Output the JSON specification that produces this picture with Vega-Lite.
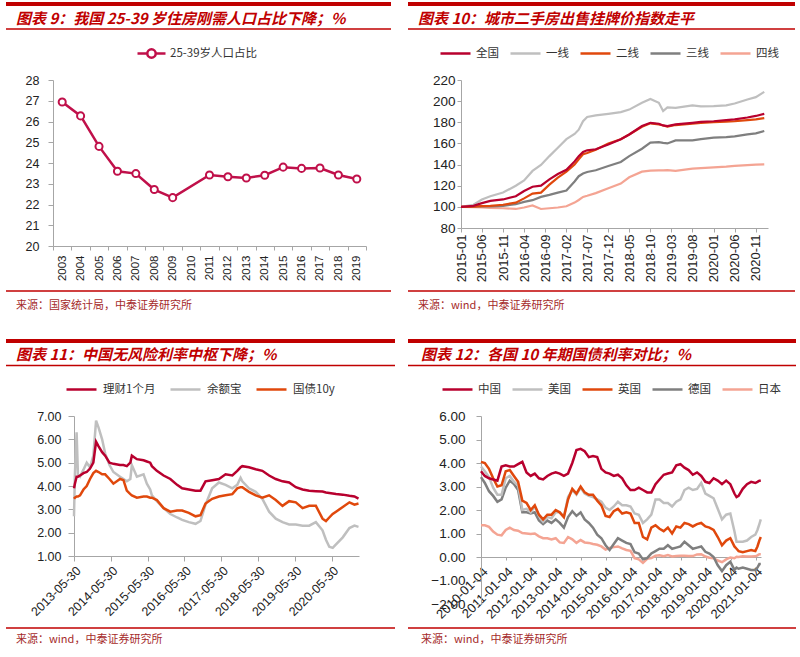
{
"$schema":"https://vega.github.io/schema/vega-lite/v6.json",
"autosize":{"type":"pad"},
"padding":{"left":0,"top":2,"right":0,"bottom":0},
"background":"white",
"config":{"view":{"stroke":null},"axis":{"grid":false,"domainColor":"#A6A6A6","tickColor":"#A6A6A6","labelColor":"#222222","labelFont":"Liberation Sans","labelOverlap":false}},
"columns":2,"align":"each","bounds":"flush","spacing":{"row":0,"column":13},
"resolve":{"scale":{"color":"independent"},"legend":{"color":"independent"}},
"concat":[
 {"width":385,"height":78,"data":{"values":[{"t":"图表 9：我国 25-39 岁住房刚需人口占比下降；%"}]},
  "layer":[
   {"mark":{"type":"rule","color":"#C00000","strokeWidth":4},"encoding":{"y":{"datum":2,"type":"quantitative","scale":{"domain":[0,78],"reverse":true,"nice":false,"zero":false},"axis":null}}},
   {"mark":{"type":"rule","color":"#C00000","strokeWidth":1.5},"encoding":{"y":{"datum":27,"type":"quantitative","scale":{"domain":[0,78],"reverse":true,"nice":false,"zero":false},"axis":null}}},
   {"mark":{"type":"text","align":"left","baseline":"middle","font":"Noto Sans CJK SC","fontSize":15,"fontStyle":"italic","fontWeight":"bold","color":"#C00000"},"encoding":{"text":{"field":"t"},"x":{"datum":10,"type":"quantitative","scale":{"domain":[0,385],"nice":false,"zero":false},"axis":null},"y":{"datum":16.5,"type":"quantitative","scale":{"domain":[0,78],"reverse":true,"nice":false,"zero":false},"axis":null}}}
  ]},
 {"width":387,"height":78,"data":{"values":[{"t":"图表 10：城市二手房出售挂牌价指数走平"}]},
  "layer":[
   {"mark":{"type":"rule","color":"#C00000","strokeWidth":4},"encoding":{"y":{"datum":2,"type":"quantitative","scale":{"domain":[0,78],"reverse":true,"nice":false,"zero":false},"axis":null}}},
   {"mark":{"type":"rule","color":"#C00000","strokeWidth":1.5},"encoding":{"y":{"datum":27,"type":"quantitative","scale":{"domain":[0,78],"reverse":true,"nice":false,"zero":false},"axis":null}}},
   {"mark":{"type":"text","align":"left","baseline":"middle","font":"Noto Sans CJK SC","fontSize":15,"fontStyle":"italic","fontWeight":"bold","color":"#C00000"},"encoding":{"text":{"field":"t"},"x":{"datum":10,"type":"quantitative","scale":{"domain":[0,387],"nice":false,"zero":false},"axis":null},"y":{"datum":16.5,"type":"quantitative","scale":{"domain":[0,78],"reverse":true,"nice":false,"zero":false},"axis":null}}}
  ]},
 {"width":360,"height":166,
  "data":{"values":[{"year":"2003","v":26.94},{"year":"2004","v":26.27},{"year":"2005","v":24.8},{"year":"2006","v":23.6},{"year":"2007","v":23.49},{"year":"2008","v":22.72},{"year":"2009","v":22.33},{"year":"2011","v":23.42},{"year":"2012","v":23.34},{"year":"2013","v":23.28},{"year":"2014","v":23.41},{"year":"2015","v":23.8},{"year":"2016","v":23.74},{"year":"2017","v":23.76},{"year":"2018","v":23.42},{"year":"2019","v":23.23}]},
  "encoding":{
   "x":{"field":"year","type":"ordinal","bandPosition":0.5,"scale":{"type":"band","domain":["2003","2004","2005","2006","2007","2008","2009","2010","2011","2012","2013","2014","2015","2016","2017","2018","2019"],"range":[47,360],"paddingInner":0,"paddingOuter":0},"axis":{"title":null,"labelAngle":-90,"labelFontSize":11.5,"tickSize":4,"labelPadding":5,"tickBand":"extent"}},
   "y":{"field":"v","type":"quantitative","scale":{"domain":[20,28],"nice":false,"zero":false},"axis":{"title":null,"offset":-47,"values":[20,21,22,23,24,25,26,27,28],"labelFontSize":12.5,"tickSize":5,"labelPadding":9}}
  },
  "layer":[
   {"mark":{"type":"line","strokeWidth":2.5},"encoding":{"color":{"datum":"25-39岁人口占比","scale":{"range":["#C0104A"]},"legend":{"orient":"none","legendX":130,"legendY":-42,"direction":"horizontal","title":null,"symbolType":"M-1,0H-0.3M0.3,0H1M-0.3,0A0.3,0.3,0,1,0,0.3,0A0.3,0.3,0,1,0,-0.3,0","symbolSize":784,"symbolStrokeWidth":2.5,"symbolStrokeColor":"#C0104A","symbolFillColor":"white","labelFont":"Noto Sans CJK SC","labelFontSize":11.5,"labelColor":"#333333","labelOffset":3}}}},
   {"mark":{"type":"point","shape":"circle","size":50,"filled":true,"fill":"white","stroke":"#C0104A","strokeWidth":2,"opacity":1}}
  ]},
 {"width":360,"height":148,
  "data":{"values":[
   {"d":"2015-01-01","全国":100,"一线":100,"二线":100,"三线":100,"四线":100},
   {"d":"2015-04-01","全国":101,"一线":102,"二线":100.3,"三线":100.3,"四线":99.8},
   {"d":"2015-06-01","全国":103.5,"一线":107,"二线":100.6,"三线":100.6,"四线":99.4},
   {"d":"2015-08-01","全国":105.7,"一线":110,"二线":101,"三线":100.5,"四线":99},
   {"d":"2015-11-01","全国":107,"一线":113.5,"二线":102,"三线":101,"四线":98.7},
   {"d":"2016-02-01","全国":110,"一线":120,"二线":104,"三线":102.5,"四线":98},
   {"d":"2016-04-01","全国":115,"一线":125,"二线":108,"三线":104.7,"四线":99.4},
   {"d":"2016-06-01","全国":119,"一线":134,"二线":112.5,"三线":106.3,"四线":101.3},
   {"d":"2016-08-01","全国":120,"一线":139.6,"二线":113.5,"三线":109.4,"四线":98},
   {"d":"2016-10-01","全国":126,"一线":148,"二线":121,"三线":111.3,"四线":98.7},
   {"d":"2016-12-01","全国":131,"一线":156,"二线":127.7,"三线":113.5,"四线":99.4},
   {"d":"2017-02-01","全国":135,"一线":164,"二线":133.3,"三线":115.5,"四线":100.6},
   {"d":"2017-04-01","全国":143,"一线":169,"二线":140,"三线":124,"四线":104},
   {"d":"2017-05-01","全国":148,"一线":173,"二线":145,"三线":129,"四线":106.5},
   {"d":"2017-06-01","全国":152,"一线":181,"二线":149.7,"三线":131.5,"四线":109.4},
   {"d":"2017-07-01","全国":153.5,"一线":185,"二线":151,"三线":133,"四线":110.5},
   {"d":"2017-09-01","全国":154.5,"一线":186.5,"二线":154,"三线":134.6,"四线":113},
   {"d":"2017-12-01","全国":159,"一线":188,"二线":160,"三线":138.7,"四线":117.6},
   {"d":"2018-03-01","全国":164,"一线":189.6,"二线":164,"三线":142.5,"四线":122},
   {"d":"2018-05-01","全国":168.5,"一线":192,"二线":168.5,"三线":148,"四线":128},
   {"d":"2018-08-01","全国":176.5,"一线":198.4,"二线":175.8,"三线":155,"四线":133.3},
   {"d":"2018-10-01","全国":179.5,"一线":202,"二线":179,"三线":160.7,"四线":134.3},
   {"d":"2018-12-01","全国":178.6,"一线":198.4,"二线":178,"三线":161.3,"四线":134.5},
   {"d":"2019-01-01","全国":177,"一线":190.6,"二线":177,"三线":160.5,"四线":134.6},
   {"d":"2019-02-01","全国":176.4,"一线":194,"二线":176,"三线":160,"四线":134.8},
   {"d":"2019-04-01","全国":178,"一线":193.7,"二线":177.4,"三线":162.9,"四线":134},
   {"d":"2019-08-01","全国":179.5,"一线":196,"二线":178.6,"三线":162.9,"四线":136.2},
   {"d":"2019-10-01","全国":180.3,"一线":195,"二线":179.3,"三线":164,"四线":136.6},
   {"d":"2020-01-01","全国":181,"一线":195.3,"二线":180.2,"三线":165.4,"四线":137.4},
   {"d":"2020-04-01","全国":182,"一线":196,"二线":180.6,"三线":166,"四线":138},
   {"d":"2020-06-01","全国":182.7,"一线":197.8,"二线":181,"三线":166.7,"四线":138.7},
   {"d":"2020-09-01","全国":184.5,"一线":201.6,"二线":182,"三线":168.5,"四线":139.5},
   {"d":"2020-11-01","全国":186,"一线":203.8,"二线":182.7,"三线":169.5,"四线":140},
   {"d":"2021-01-01","全国":188,"一线":208.8,"二线":184,"三线":171.7,"四线":140.2}
  ]},
  "transform":[{"fold":["四线","三线","一线","二线","全国"],"as":["s","v"]}],
  "mark":{"type":"line","strokeWidth":2.2},
  "encoding":{
   "x":{"field":"d","type":"temporal","scale":{"type":"utc","range":[53,360],"domain":[{"year":2015,"month":1,"date":1,"utc":true},{"year":2021,"month":1,"date":28,"utc":true}]},"axis":{"title":null,"values":[{"year":2015,"month":1,"date":1,"utc":true},{"year":2015,"month":6,"date":1,"utc":true},{"year":2015,"month":11,"date":1,"utc":true},{"year":2016,"month":4,"date":1,"utc":true},{"year":2016,"month":9,"date":1,"utc":true},{"year":2017,"month":2,"date":1,"utc":true},{"year":2017,"month":7,"date":1,"utc":true},{"year":2017,"month":12,"date":1,"utc":true},{"year":2018,"month":5,"date":1,"utc":true},{"year":2018,"month":10,"date":1,"utc":true},{"year":2019,"month":3,"date":1,"utc":true},{"year":2019,"month":8,"date":1,"utc":true},{"year":2020,"month":1,"date":1,"utc":true},{"year":2020,"month":6,"date":1,"utc":true},{"year":2020,"month":11,"date":1,"utc":true}],"labelExpr":"utcFormat(datum.value, '%Y-%m')","labelAngle":-90,"labelFontSize":13,"tickSize":4,"labelPadding":2}},
   "y":{"field":"v","type":"quantitative","scale":{"domain":[80,220],"nice":false,"zero":false},"axis":{"title":null,"offset":-53,"values":[80,100,120,140,160,180,200,220],"labelFontSize":13.5,"tickSize":4,"labelPadding":2}},
   "color":{"field":"s","type":"nominal","scale":{"domain":["全国","一线","二线","三线","四线"],"range":["#B8002E","#BFBFBF","#E0480C","#7F7F7F","#F4A493"]},"legend":{"orient":"none","legendX":31,"legendY":-43,"direction":"horizontal","title":null,"symbolType":"stroke","symbolSize":900,"symbolStrokeWidth":2.5,"labelFont":"Noto Sans CJK SC","labelFontSize":11.5,"labelColor":"#333333","labelOffset":4,"columnPadding":6}}
  }},
 {"width":385,"height":92,"data":{"values":[{"t":"来源：国家统计局，中泰证券研究所"}]},
  "layer":[
   {"mark":{"type":"rule","color":"#C00000","strokeWidth":1.5},"encoding":{"y":{"datum":45,"type":"quantitative","scale":{"domain":[0,92],"reverse":true,"nice":false,"zero":false},"axis":null}}},
   {"mark":{"type":"text","align":"left","baseline":"middle","font":"Noto Sans CJK SC","fontSize":11,"color":"#A52A2A"},"encoding":{"text":{"field":"t"},"x":{"datum":10,"type":"quantitative","scale":{"domain":[0,385],"nice":false,"zero":false},"axis":null},"y":{"datum":60,"type":"quantitative","scale":{"domain":[0,92],"reverse":true,"nice":false,"zero":false},"axis":null}}}
  ]},
 {"width":387,"height":92,"data":{"values":[{"t":"来源：wind，中泰证券研究所"}]},
  "layer":[
   {"mark":{"type":"rule","color":"#C00000","strokeWidth":1.5},"encoding":{"y":{"datum":45,"type":"quantitative","scale":{"domain":[0,92],"reverse":true,"nice":false,"zero":false},"axis":null}}},
   {"mark":{"type":"text","align":"left","baseline":"middle","font":"Noto Sans CJK SC","fontSize":11,"color":"#A52A2A"},"encoding":{"text":{"field":"t"},"x":{"datum":10,"type":"quantitative","scale":{"domain":[0,387],"nice":false,"zero":false},"axis":null},"y":{"datum":60,"type":"quantitative","scale":{"domain":[0,92],"reverse":true,"nice":false,"zero":false},"axis":null}}}
  ]},
 {"width":389,"height":78,"data":{"values":[{"t":"图表 11：中国无风险利率中枢下降；%"}]},
  "layer":[
   {"mark":{"type":"rule","color":"#C00000","strokeWidth":4},"encoding":{"y":{"datum":3,"type":"quantitative","scale":{"domain":[0,78],"reverse":true,"nice":false,"zero":false},"axis":null}}},
   {"mark":{"type":"rule","color":"#C00000","strokeWidth":1.5},"encoding":{"y":{"datum":27.5,"type":"quantitative","scale":{"domain":[0,78],"reverse":true,"nice":false,"zero":false},"axis":null}}},
   {"mark":{"type":"text","align":"left","baseline":"middle","font":"Noto Sans CJK SC","fontSize":15,"fontStyle":"italic","fontWeight":"bold","color":"#C00000"},"encoding":{"text":{"field":"t"},"x":{"datum":10,"type":"quantitative","scale":{"domain":[0,389],"nice":false,"zero":false},"axis":null},"y":{"datum":16.5,"type":"quantitative","scale":{"domain":[0,78],"reverse":true,"nice":false,"zero":false},"axis":null}}}
  ]},
 {"width":388,"height":78,"data":{"values":[{"t":"图表 12：各国 10 年期国债利率对比；%"}]},
  "layer":[
   {"mark":{"type":"rule","color":"#C00000","strokeWidth":4},"encoding":{"y":{"datum":3,"type":"quantitative","scale":{"domain":[0,78],"reverse":true,"nice":false,"zero":false},"axis":null}}},
   {"mark":{"type":"rule","color":"#C00000","strokeWidth":1.5},"encoding":{"y":{"datum":27.5,"type":"quantitative","scale":{"domain":[0,78],"reverse":true,"nice":false,"zero":false},"axis":null}}},
   {"mark":{"type":"text","align":"left","baseline":"middle","font":"Noto Sans CJK SC","fontSize":15,"fontStyle":"italic","fontWeight":"bold","color":"#C00000"},"encoding":{"text":{"field":"t"},"x":{"datum":13,"type":"quantitative","scale":{"domain":[0,388],"nice":false,"zero":false},"axis":null},"y":{"datum":16.5,"type":"quantitative","scale":{"domain":[0,78],"reverse":true,"nice":false,"zero":false},"axis":null}}}
  ]},
 {"width":353,"height":140,
  "data":{"values":[
   {"d":"2013-05-30","理财1个月":3.9,"余额宝":2.7,"国债10y":3.45},
   {"d":"2013-06-08","理财1个月":4.1,"余额宝":4.5,"国债10y":3.5},
   {"d":"2013-06-25","理财1个月":4.4,"余额宝":6.3,"国债10y":3.55},
   {"d":"2013-07-08","理财1个月":4.4,"余额宝":4.5,"国债10y":3.55},
   {"d":"2013-07-29","理财1个月":4.45,"余额宝":4.4,"国债10y":3.6},
   {"d":"2013-09-01","理财1个月":4.55,"余额宝":4.7,"国债10y":3.85},
   {"d":"2013-10-03","理财1个月":4.6,"余额宝":5.0,"国债10y":4.0},
   {"d":"2013-11-05","理财1个月":4.75,"余额宝":4.8,"国债10y":4.3},
   {"d":"2013-12-08","理财1个月":5.0,"余额宝":5.3,"国债10y":4.55},
   {"d":"2014-01-04","理财1个月":5.9,"余额宝":6.8,"国债10y":4.65},
   {"d":"2014-01-29","理财1个月":5.7,"余额宝":6.5,"国债10y":4.6},
   {"d":"2014-03-05","理财1个月":5.45,"余额宝":6.0,"国债10y":4.5},
   {"d":"2014-04-04","理财1个月":5.3,"余额宝":5.4,"国债10y":4.5},
   {"d":"2014-05-17","理财1个月":5.0,"余额宝":4.9,"国债10y":4.3},
   {"d":"2014-06-25","理财1个月":4.95,"余额宝":4.6,"国债10y":4.1},
   {"d":"2014-08-30","理财1个月":4.9,"余额宝":4.4,"国债10y":4.3},
   {"d":"2014-10-03","理财1个月":4.9,"余额宝":4.3,"国债10y":4.25},
   {"d":"2014-11-05","理财1个月":4.85,"余额宝":4.2,"国债10y":3.8},
   {"d":"2014-12-10","理财1个月":5.0,"余额宝":4.3,"国债10y":3.65},
   {"d":"2014-12-25","理财1个月":5.3,"余额宝":4.9,"国债10y":3.6},
   {"d":"2015-02-13","理财1个月":5.15,"余额宝":4.4,"国债10y":3.5},
   {"d":"2015-04-20","理财1个月":5.1,"余额宝":4.5,"国债10y":3.55},
   {"d":"2015-05-23","理财1个月":5.05,"余额宝":4.1,"国债10y":3.55},
   {"d":"2015-06-25","理财1个月":5.0,"余额宝":3.85,"国债10y":3.5},
   {"d":"2015-07-12","理财1个月":4.85,"余额宝":3.6,"国债10y":3.5},
   {"d":"2015-08-30","理财1个月":4.65,"余额宝":3.35,"国债10y":3.4},
   {"d":"2015-11-05","理财1个月":4.45,"余额宝":3.05,"国债10y":3.05},
   {"d":"2016-01-11","理财1个月":4.3,"余额宝":2.8,"国债10y":2.9},
   {"d":"2016-03-18","理财1个月":4.05,"余额宝":2.65,"国债10y":2.95},
   {"d":"2016-05-07","理财1个月":3.9,"余额宝":2.55,"国债10y":2.95},
   {"d":"2016-07-12","理财1个月":3.85,"余额宝":2.45,"国债10y":2.85},
   {"d":"2016-09-17","理财1个月":3.8,"余额宝":2.38,"国债10y":2.7},
   {"d":"2016-11-05","理财1个月":3.8,"余额宝":2.5,"国债10y":2.75},
   {"d":"2016-12-25","理财1个月":4.2,"余额宝":3.2,"国债10y":3.25},
   {"d":"2017-03-01","理财1个月":4.25,"余额宝":3.9,"国债10y":3.45},
   {"d":"2017-05-07","理财1个月":4.3,"余额宝":4.15,"国债10y":3.55},
   {"d":"2017-07-12","理财1个月":4.5,"余额宝":4.05,"国债10y":3.6},
   {"d":"2017-09-17","理财1个月":4.45,"余额宝":3.9,"国债10y":3.65},
   {"d":"2017-11-05","理财1个月":4.65,"余额宝":4.05,"国债10y":3.9},
   {"d":"2017-12-08","理财1个月":4.8,"余额宝":4.35,"国债10y":3.95},
   {"d":"2017-12-25","理财1个月":4.85,"余额宝":4.2,"国债10y":3.95},
   {"d":"2018-03-01","理财1个月":4.8,"余额宝":3.9,"国债10y":3.75},
   {"d":"2018-05-07","理财1个月":4.72,"余额宝":3.75,"国债10y":3.6},
   {"d":"2018-07-12","理财1个月":4.65,"余额宝":3.45,"国债10y":3.5},
   {"d":"2018-09-17","理财1个月":4.45,"余额宝":2.9,"国债10y":3.6},
   {"d":"2018-11-22","理财1个月":4.3,"余额宝":2.6,"国债10y":3.4},
   {"d":"2019-01-28","理财1个月":4.2,"余额宝":2.45,"国债10y":3.15},
   {"d":"2019-04-04","理财1个月":4.15,"余额宝":2.35,"国债10y":3.35},
   {"d":"2019-06-09","理财1个月":3.95,"余额宝":2.35,"国债10y":3.3},
   {"d":"2019-08-15","理财1个月":3.85,"余额宝":2.3,"国债10y":3.05},
   {"d":"2019-10-20","理财1个月":3.8,"余额宝":2.3,"国债10y":3.15},
   {"d":"2019-12-25","理财1个月":3.78,"余额宝":2.45,"国债10y":3.15},
   {"d":"2020-02-29","理财1个月":3.76,"余额宝":2.1,"国债10y":2.6},
   {"d":"2020-04-03","理财1个月":3.72,"余额宝":1.7,"国债10y":2.5},
   {"d":"2020-05-06","理财1个月":3.7,"余额宝":1.4,"国债10y":2.65},
   {"d":"2020-06-09","理财1个月":3.68,"余额宝":1.35,"国债10y":2.8},
   {"d":"2020-07-12","理财1个月":3.66,"余额宝":1.5,"国债10y":2.9},
   {"d":"2020-09-17","理财1个月":3.63,"余额宝":1.8,"国债10y":3.1},
   {"d":"2020-11-22","理财1个月":3.58,"余额宝":2.2,"国债10y":3.3},
   {"d":"2021-01-11","理财1个月":3.55,"余额宝":2.3,"国债10y":3.2},
   {"d":"2021-02-20","理财1个月":3.46,"余额宝":2.25,"国债10y":3.25}
  ]},
  "transform":[{"fold":["余额宝","国债10y","理财1个月"],"as":["s","v"]}],
  "mark":{"type":"line","strokeWidth":2.5},
  "encoding":{
   "x":{"field":"d","type":"temporal","scale":{"type":"utc","range":[68,353],"domain":[{"year":2013,"month":5,"date":30,"utc":true},{"year":2021,"month":2,"date":25,"utc":true}]},"axis":{"title":null,"values":[{"year":2013,"month":5,"date":30,"utc":true},{"year":2014,"month":5,"date":30,"utc":true},{"year":2015,"month":5,"date":30,"utc":true},{"year":2016,"month":5,"date":30,"utc":true},{"year":2017,"month":5,"date":30,"utc":true},{"year":2018,"month":5,"date":30,"utc":true},{"year":2019,"month":5,"date":30,"utc":true},{"year":2020,"month":5,"date":30,"utc":true}],"labelExpr":"utcFormat(datum.value, '%Y-%m-%d')","labelAngle":-45,"labelFontSize":12.5,"tickSize":5,"labelPadding":3}},
   "y":{"field":"v","type":"quantitative","scale":{"domain":[1,7],"nice":false,"zero":false},"axis":{"title":null,"offset":-68,"values":[1,2,3,4,5,6,7],"format":".2f","labelFontSize":12.5,"tickSize":6,"labelPadding":7}},
   "color":{"field":"s","type":"nominal","scale":{"domain":["理财1个月","余额宝","国债10y"],"range":["#B8002E","#BFBFBF","#E0480C"]},"legend":{"orient":"none","legendX":59,"legendY":-43,"direction":"horizontal","title":null,"symbolType":"stroke","symbolSize":900,"symbolStrokeWidth":2.5,"labelFont":"Noto Sans CJK SC","labelFontSize":11.5,"labelColor":"#333333","labelOffset":5,"columnPadding":9}}
  }},
 {"width":353,"height":188,
  "data":{"values":[
   {"d":"2010-01-04","中国":3.65,"美国":3.85,"英国":4.05,"德国":3.4,"日本":1.35},
   {"d":"2010-03-01","中国":3.45,"美国":3.65,"英国":4.0,"德国":3.15,"日本":1.35},
   {"d":"2010-05-01","中国":3.35,"美国":3.4,"英国":3.75,"德国":2.8,"日本":1.28},
   {"d":"2010-07-01","中国":3.3,"美国":2.95,"英国":3.35,"德国":2.6,"日本":1.08},
   {"d":"2010-09-01","中国":3.25,"美国":2.65,"英国":3.0,"德国":2.35,"日本":0.95},
   {"d":"2010-11-01","中国":3.85,"美国":2.65,"英国":3.05,"德国":2.45,"日本":0.92},
   {"d":"2011-01-01","中国":3.9,"美国":3.35,"英国":3.65,"德国":2.95,"日本":1.15},
   {"d":"2011-03-01","中国":3.85,"美国":3.45,"英国":3.7,"德国":3.25,"日本":1.25},
   {"d":"2011-05-01","中国":3.85,"美国":3.2,"英国":3.45,"德国":3.1,"日本":1.15},
   {"d":"2011-07-01","中国":3.95,"美国":3.05,"英国":3.2,"德国":2.85,"日本":1.12},
   {"d":"2011-09-01","中国":4.05,"美国":2.0,"英国":2.4,"德国":1.9,"日本":1.02},
   {"d":"2011-11-01","中国":3.6,"美国":2.05,"英国":2.3,"德国":1.9,"日本":1.0},
   {"d":"2012-01-01","中国":3.45,"美国":1.9,"英国":2.0,"德国":1.85,"日本":0.98},
   {"d":"2012-03-01","中国":3.55,"美国":2.15,"英国":2.2,"德国":1.9,"日本":1.0},
   {"d":"2012-05-01","中国":3.35,"美国":1.75,"英国":1.8,"德国":1.55,"日本":0.88},
   {"d":"2012-07-01","中国":3.3,"美国":1.5,"英国":1.6,"德国":1.4,"日本":0.8},
   {"d":"2012-09-01","中国":3.45,"美国":1.7,"英国":1.8,"德国":1.55,"日本":0.8},
   {"d":"2012-11-01","中国":3.55,"美国":1.65,"英国":1.8,"德国":1.45,"日本":0.75},
   {"d":"2013-01-01","中国":3.6,"美国":1.9,"英国":2.0,"德国":1.6,"日本":0.8},
   {"d":"2013-03-01","中国":3.55,"美国":1.9,"英国":1.9,"德国":1.45,"日本":0.62},
   {"d":"2013-05-01","中国":3.45,"美国":1.7,"英国":1.7,"德国":1.25,"日本":0.6},
   {"d":"2013-07-01","中国":3.55,"美国":2.55,"英国":2.45,"德国":1.7,"日本":0.85},
   {"d":"2013-09-01","中国":4.0,"美国":2.85,"英国":2.9,"德国":1.95,"日本":0.75},
   {"d":"2013-11-01","中国":4.55,"美国":2.65,"英国":2.7,"德国":1.75,"日本":0.6},
   {"d":"2014-01-01","中国":4.6,"美国":2.95,"英国":3.0,"德国":1.9,"日本":0.72},
   {"d":"2014-03-01","中国":4.5,"美国":2.7,"英国":2.75,"德国":1.6,"日本":0.62},
   {"d":"2014-05-01","中国":4.25,"美国":2.6,"英国":2.65,"德国":1.45,"日本":0.6},
   {"d":"2014-07-01","中国":4.3,"美国":2.55,"英国":2.65,"德国":1.25,"日本":0.55},
   {"d":"2014-09-01","中国":4.25,"美国":2.45,"英国":2.4,"德国":0.95,"日本":0.52},
   {"d":"2014-11-01","中国":3.75,"美国":2.35,"英国":2.2,"德国":0.8,"日本":0.45},
   {"d":"2015-01-01","中国":3.6,"美国":2.1,"英国":1.75,"德国":0.5,"日本":0.32},
   {"d":"2015-03-01","中国":3.55,"美国":2.0,"英国":1.7,"德国":0.3,"日本":0.38},
   {"d":"2015-05-01","中国":3.45,"美国":2.15,"英国":1.95,"德国":0.55,"日本":0.42},
   {"d":"2015-07-01","中国":3.5,"美国":2.35,"英国":2.05,"德国":0.8,"日本":0.45},
   {"d":"2015-09-01","中国":3.35,"美国":2.2,"英国":1.85,"德国":0.7,"日本":0.37},
   {"d":"2015-11-01","中国":3.05,"美国":2.2,"英国":1.9,"德国":0.6,"日本":0.3},
   {"d":"2016-01-01","中国":2.85,"美国":2.15,"英国":1.85,"德国":0.55,"日本":0.26},
   {"d":"2016-03-01","中国":2.85,"美国":1.85,"英国":1.45,"德国":0.2,"日本":-0.05},
   {"d":"2016-05-01","中国":2.95,"美国":1.8,"英国":1.45,"德国":0.15,"日本":-0.1},
   {"d":"2016-07-01","中国":2.85,"美国":1.45,"英国":0.85,"德国":-0.1,"日本":-0.25},
   {"d":"2016-09-01","中国":2.75,"美国":1.6,"英国":0.75,"德国":-0.05,"日本":-0.08},
   {"d":"2016-11-01","中国":2.75,"美国":1.8,"英国":1.25,"德国":0.15,"日本":-0.05},
   {"d":"2017-01-01","中国":3.1,"美国":2.45,"英国":1.35,"德国":0.25,"日本":0.05},
   {"d":"2017-03-01","中国":3.3,"美国":2.45,"英国":1.2,"德国":0.35,"日本":0.07},
   {"d":"2017-05-01","中国":3.5,"美国":2.3,"英国":1.1,"德国":0.35,"日本":0.03},
   {"d":"2017-07-01","中国":3.55,"美国":2.3,"英国":1.25,"德国":0.5,"日本":0.08},
   {"d":"2017-09-01","中国":3.6,"美国":2.15,"英国":1.0,"德国":0.35,"日本":0.02},
   {"d":"2017-11-01","中国":3.9,"美国":2.35,"英国":1.3,"德国":0.4,"日本":0.04},
   {"d":"2018-01-01","中国":3.95,"美国":2.45,"英国":1.25,"德国":0.45,"日本":0.05},
   {"d":"2018-03-01","中国":3.8,"美国":2.85,"英国":1.45,"德国":0.65,"日本":0.05},
   {"d":"2018-05-01","中国":3.7,"美国":2.95,"英国":1.4,"德国":0.5,"日本":0.04},
   {"d":"2018-07-01","中国":3.5,"美国":2.85,"英国":1.3,"德国":0.35,"日本":0.04},
   {"d":"2018-09-01","中国":3.6,"美国":2.9,"英国":1.4,"德国":0.4,"日本":0.11},
   {"d":"2018-11-01","中国":3.45,"美国":3.15,"英国":1.45,"德国":0.45,"日本":0.12},
   {"d":"2019-01-01","中国":3.2,"美国":2.7,"英国":1.3,"德国":0.22,"日本":0.02},
   {"d":"2019-03-01","中国":3.15,"美国":2.6,"英国":1.25,"德国":0.15,"日本":-0.03},
   {"d":"2019-05-01","中国":3.35,"美国":2.5,"英国":1.15,"德国":0.0,"日本":-0.05},
   {"d":"2019-07-01","中国":3.25,"美国":2.05,"英国":0.85,"德国":-0.35,"日本":-0.15},
   {"d":"2019-09-01","中国":3.1,"美国":1.6,"英国":0.5,"德国":-0.6,"日本":-0.22},
   {"d":"2019-11-01","中国":3.25,"美国":1.8,"英国":0.7,"德国":-0.35,"日本":-0.1},
   {"d":"2020-01-01","中国":3.1,"美国":1.85,"英国":0.8,"德国":-0.2,"日本":-0.02},
   {"d":"2020-03-01","中国":2.7,"美国":1.1,"英国":0.45,"德国":-0.55,"日本":-0.05},
   {"d":"2020-04-01","中国":2.55,"美国":0.65,"英国":0.35,"德国":-0.45,"日本":0.01},
   {"d":"2020-05-01","中国":2.6,"美国":0.65,"英国":0.25,"德国":-0.5,"日本":0.0},
   {"d":"2020-07-01","中国":2.9,"美国":0.65,"英国":0.2,"德国":-0.45,"日本":0.03},
   {"d":"2020-09-01","中国":3.1,"美国":0.7,"英国":0.25,"德国":-0.5,"日本":0.02},
   {"d":"2020-11-01","中国":3.2,"美国":0.85,"英国":0.3,"德国":-0.55,"日本":0.02},
   {"d":"2021-01-01","中国":3.15,"美国":0.95,"英国":0.25,"德国":-0.55,"日本":0.03},
   {"d":"2021-02-01","中国":3.2,"美国":1.15,"英国":0.45,"德国":-0.45,"日本":0.07},
   {"d":"2021-03-01","中国":3.25,"美国":1.4,"英国":0.7,"德国":-0.3,"日本":0.12},
   {"d":"2021-03-22","中国":3.25,"美国":1.6,"英国":0.85,"德国":-0.3,"日本":0.12}
  ]},
  "transform":[{"fold":["日本","德国","美国","英国","中国"],"as":["s","v"]}],
  "mark":{"type":"line","strokeWidth":2.5},
  "encoding":{
   "x":{"field":"d","type":"temporal","scale":{"type":"utc","range":[73,353],"domain":[{"year":2010,"month":1,"date":4,"utc":true},{"year":2021,"month":3,"date":25,"utc":true}]},"axis":{"title":null,"offset":-47,"values":[{"year":2010,"month":1,"date":4,"utc":true},{"year":2011,"month":1,"date":4,"utc":true},{"year":2012,"month":1,"date":4,"utc":true},{"year":2013,"month":1,"date":4,"utc":true},{"year":2014,"month":1,"date":4,"utc":true},{"year":2015,"month":1,"date":4,"utc":true},{"year":2016,"month":1,"date":4,"utc":true},{"year":2017,"month":1,"date":4,"utc":true},{"year":2018,"month":1,"date":4,"utc":true},{"year":2019,"month":1,"date":4,"utc":true},{"year":2020,"month":1,"date":4,"utc":true},{"year":2021,"month":1,"date":4,"utc":true}],"labelExpr":"utcFormat(datum.value, '%Y-%m-%d')","labelAngle":-45,"labelFontSize":13,"tickSize":3,"labelPadding":5}},
   "y":{"field":"v","type":"quantitative","scale":{"domain":[-2,6],"nice":false,"zero":false},"axis":{"title":null,"offset":-73,"values":[-2,-1,0,1,2,3,4,5,6],"format":".2f","labelFontSize":13.5,"tickSize":5,"labelPadding":11}},
   "color":{"field":"s","type":"nominal","scale":{"domain":["中国","美国","英国","德国","日本"],"range":["#B8002E","#BFBFBF","#E0480C","#7F7F7F","#F4A493"]},"legend":{"orient":"none","legendX":33,"legendY":-43,"direction":"horizontal","title":null,"symbolType":"stroke","symbolSize":900,"symbolStrokeWidth":2.5,"labelFont":"Noto Sans CJK SC","labelFontSize":11.5,"labelColor":"#333333","labelOffset":4,"columnPadding":6}}
  }},
 {"width":389,"height":52,"data":{"values":[{"t":"来源：wind，中泰证券研究所"}]},
  "layer":[
   {"mark":{"type":"rule","color":"#C00000","strokeWidth":1.5},"encoding":{"y":{"datum":24,"type":"quantitative","scale":{"domain":[0,52],"reverse":true,"nice":false,"zero":false},"axis":null}}},
   {"mark":{"type":"text","align":"left","baseline":"middle","font":"Noto Sans CJK SC","fontSize":11,"color":"#A52A2A"},"encoding":{"text":{"field":"t"},"x":{"datum":10,"type":"quantitative","scale":{"domain":[0,389],"nice":false,"zero":false},"axis":null},"y":{"datum":36,"type":"quantitative","scale":{"domain":[0,52],"reverse":true,"nice":false,"zero":false},"axis":null}}}
  ]},
 {"width":388,"height":52,"data":{"values":[{"t":"来源：wind，中泰证券研究所"}]},
  "layer":[
   {"mark":{"type":"rule","color":"#C00000","strokeWidth":1.5},"encoding":{"y":{"datum":24,"type":"quantitative","scale":{"domain":[0,52],"reverse":true,"nice":false,"zero":false},"axis":null}}},
   {"mark":{"type":"text","align":"left","baseline":"middle","font":"Noto Sans CJK SC","fontSize":11,"color":"#A52A2A"},"encoding":{"text":{"field":"t"},"x":{"datum":13,"type":"quantitative","scale":{"domain":[0,388],"nice":false,"zero":false},"axis":null},"y":{"datum":36,"type":"quantitative","scale":{"domain":[0,52],"reverse":true,"nice":false,"zero":false},"axis":null}}}
  ]}
]}
